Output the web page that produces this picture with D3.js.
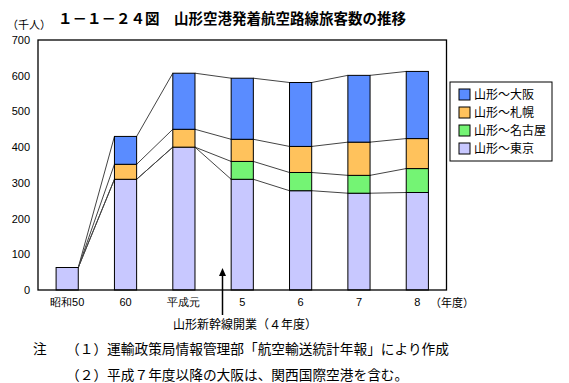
<!DOCTYPE html>
<html>
<head>
<meta charset="utf-8">
<script src="https://cdn.jsdelivr.net/npm/d3@7"></script>
<style>
  body { margin: 0; background: #fff; }
  svg { display: block; font-family: "Noto Sans CJK JP", "Noto Sans", sans-serif; }
</style>
</head>
<body>
<div id="vis"></div>
<script>
const FRAME_WIDTH = 569;
const FRAME_HEIGHT = 383;
const PLOT = {left: 38, right: 446.5, top: 40, bottom: 290};

// data (千人)
const years = ["昭和50", "60", "平成元", "5", "6", "7", "8"];
const tokyo   = [63, 310, 400, 310, 278, 271, 273];
const nagoya  = [0, 0, 0, 50, 51, 50, 67];
const sapporo = [0, 42, 50, 62, 73, 93, 84];
const osaka   = [0, 78, 157, 171, 179, 187, 188];
const yTicks = [0, 100, 200, 300, 400, 500, 600, 700];

const seriesNames = ["山形～東京", "山形～名古屋", "山形～札幌", "山形～大阪"];
const seriesColors = ["#c8c8ff", "#74f474", "#ffc25c", "#5a8cff"];

const rows = years.map((y, i) => ({
    year: y, tokyo: tokyo[i], nagoya: nagoya[i], sapporo: sapporo[i], osaka: osaka[i]
}));
const keys = ["tokyo", "nagoya", "sapporo", "osaka"];
const stacked = d3.stack().keys(keys)(rows);

const svg = d3.select("#vis").append("svg")
    .attr("width", FRAME_WIDTH)
    .attr("height", FRAME_HEIGHT);

const X_SCALE = d3.scaleBand()
    .domain(years)
    .range([PLOT.left, PLOT.right])
    .paddingInner(0.62)
    .paddingOuter(0.31);

const Y_SCALE = d3.scaleLinear()
    .domain([0, 700])
    .range([PLOT.bottom, PLOT.top]);

const bw = X_SCALE.bandwidth();

// title
svg.append("text")
    .attr("x", 58).attr("y", 24)
    .attr("font-size", 14.5).attr("font-weight", "bold")
    .text("１－１－２４図　山形空港発着航空路線旅客数の推移");

svg.append("text")
    .attr("x", 7).attr("y", 29)
    .attr("font-size", 11)
    .text("（千人）");

// y axis labels
const yAxis = svg.append("g")
    .attr("transform", "translate(" + PLOT.left + ",0)")
    .call(d3.axisLeft(Y_SCALE).tickValues(yTicks).tickSize(0).tickPadding(8));
yAxis.select(".domain").remove();
yAxis.selectAll("text").attr("font-size", 11).attr("fill", "#000")
    .attr("font-family", "Liberation Sans, Arial, sans-serif");

// x axis labels
const xAxis = svg.append("g")
    .attr("transform", "translate(0," + PLOT.bottom + ")")
    .call(d3.axisBottom(X_SCALE).tickSize(0).tickPadding(8));
xAxis.select(".domain").remove();
xAxis.selectAll("text").attr("font-size", 11).attr("fill", "#000");

svg.append("text")
    .attr("x", 430).attr("y", 307)
    .attr("font-size", 11)
    .text("（年度）");

// connecting lines between stacks
for (let i = 0; i < years.length - 1; i++) {
    stacked.forEach(layer => {
        svg.append("line")
            .attr("x1", X_SCALE(years[i]) + bw)
            .attr("y1", Y_SCALE(layer[i][1]))
            .attr("x2", X_SCALE(years[i + 1]))
            .attr("y2", Y_SCALE(layer[i + 1][1]))
            .attr("stroke", "#444")
            .attr("stroke-width", 1);
    });
}

// bars
stacked.forEach((layer, k) => {
    svg.append("g").selectAll("rect")
        .data(layer.filter(d => d[1] - d[0] > 0))
        .enter()
        .append("rect")
            .attr("x", d => X_SCALE(d.data.year))
            .attr("y", d => Y_SCALE(d[1]))
            .attr("width", bw)
            .attr("height", d => Y_SCALE(d[0]) - Y_SCALE(d[1]))
            .attr("fill", seriesColors[k])
            .attr("stroke", "#000")
            .attr("stroke-width", 1);
});

// plot frame
svg.append("rect")
    .attr("x", PLOT.left).attr("y", PLOT.top)
    .attr("width", PLOT.right - PLOT.left)
    .attr("height", PLOT.bottom - PLOT.top)
    .attr("fill", "none")
    .attr("stroke", "#000")
    .attr("stroke-width", 1.3);

// legend
const legend = svg.append("g").attr("transform", "translate(450,82)");
legend.append("rect")
    .attr("width", 102).attr("height", 79)
    .attr("fill", "#fff").attr("stroke", "#000");
const legendOrder = [3, 2, 1, 0];
legendOrder.forEach((k, j) => {
    const g = legend.append("g").attr("transform", "translate(9," + (7 + j * 18) + ")");
    g.append("rect")
        .attr("width", 11).attr("height", 11)
        .attr("fill", seriesColors[k]).attr("stroke", "#000");
    g.append("text")
        .attr("x", 15).attr("y", 10)
        .attr("font-size", 12)
        .text(seriesNames[k]);
});

// annotation arrow
const ax = 222.5;
svg.append("line")
    .attr("x1", ax).attr("y1", 315).attr("x2", ax).attr("y2", 272)
    .attr("stroke", "#000").attr("stroke-width", 1.5);
svg.append("path")
    .attr("d", "M" + (ax - 3.5) + ",276 L" + ax + ",268 L" + (ax + 3.5) + ",276 Z")
    .attr("fill", "#000");

svg.append("text")
    .attr("x", 245).attr("y", 329)
    .attr("text-anchor", "middle")
    .attr("font-size", 12)
    .text("山形新幹線開業（４年度）");

// notes
svg.append("text").attr("x", 33).attr("y", 354).attr("font-size", 13.7).text("注");
svg.append("text").attr("x", 66).attr("y", 354).attr("font-size", 13.7)
    .text("（１）運輸政策局情報管理部「航空輸送統計年報」により作成");
svg.append("text").attr("x", 66).attr("y", 380).attr("font-size", 13.7)
    .text("（２）平成７年度以降の大阪は、関西国際空港を含む。");
</script>
</body>
</html>
